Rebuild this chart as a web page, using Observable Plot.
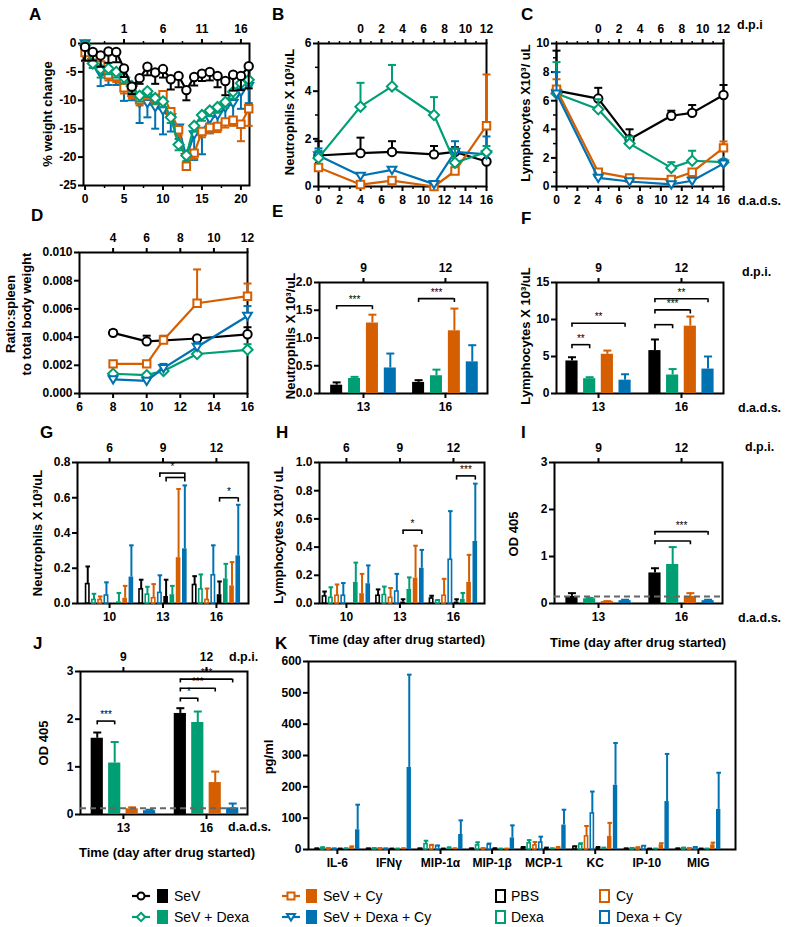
<!DOCTYPE html>
<html><head><meta charset="utf-8">
<script src="https://cdn.jsdelivr.net/npm/d3@7"></script>
<script src="https://cdn.jsdelivr.net/npm/@observablehq/plot@0.6"></script>
<style>
body{margin:0;background:#fff;}
#fig{position:relative;width:786px;height:927px;overflow:hidden;background:#fff;font-family:"Liberation Sans",Arial,sans-serif;color:#000;}
.t{position:absolute;white-space:nowrap;transform:translate(0,-50%);line-height:1;}
.sw{position:absolute;box-sizing:border-box;}
</style></head>
<body><div id="fig"></div>
<script>
// ---------------- DATA ----------------
const seriesNames = ["SeV", "SeV + Dexa", "SeV + Cy", "SeV + Dexa + Cy"];
const ctrlNames = ["PBS", "Dexa", "Cy", "Dexa + Cy"];
const seriesColors = ["#000000", "#009E73", "#D55E00", "#0072B2"];

// A: % weight change (error bars drawn downward)
const aDays = [0,1,2,3,4,5,6,7,8,9,10,11,12,13,14,15,16,17,18,19,20,21];
const aSeV      = [-0.6,-1.5,-2.1,-1.4,-1.5,-4.4,-7.6,-6.1,-4.1,-5.1,-4.5,-6.3,-5.7,-8.2,-5.9,-5.3,-5.0,-5.7,-6.6,-5.5,-5.7,-4.0];
const aSeVErr   = [2.4,1.5,2.0,2.0,1.8,1.5,1.3,1.0,1.5,2.0,1.5,1.8,2.0,1.8,1.5,1.3,1.5,2.0,2.5,2.8,2.5,3.9];
const aDexa     = [-0.3,-3.5,-4.5,-4.4,-5.0,-6.0,-7.5,-9.2,-8.4,-9.6,-10.2,-13.0,-17.8,-19.7,-14.5,-12.6,-11.8,-11.2,-10.3,-8.5,-7.0,-6.4];
const aDexaErr  = [0.5,0.8,1.5,1,1,1,1,1,1,1,1,1,1,1,1,1,1,1,1,1.2,1.2,1];
const aCy       = [-1.6,-2.2,-3.8,-5.5,-5.8,-7.8,-8.6,-9.9,-8.8,-9.7,-9.0,-12.0,-15.2,-21.6,-19.3,-15.5,-14.8,-14.6,-13.8,-13.5,-14.2,-11.5];
const aCyErr    = [1.5,1,1,1,1,1,1,1,1,1,1,1,1,0.5,1,1,1,1,1,1,3,3];
const aDexaCy   = [0,-3.3,-5.3,-5.8,-6.3,-7.6,-8.0,-10.5,-10.5,-11.2,-11.8,-13.0,-14.8,-20.0,-16.0,-15.5,-13.3,-12.6,-11.3,-10.5,-8.5,-7.5];
const aDexaCyErr= [0.5,1.0,2.2,1.5,1.0,2.5,2.0,3.5,2.5,3.8,4.2,2.5,2.0,1.0,4.5,4.0,2.5,2.0,2.5,2.5,3.0,3.0];

// B: neutrophils, C: lymphocytes (blood counts)
const bcDays = [0,4,7,11,13,16];
const bSeV = [1.3,1.4,1.45,1.35,1.45,1.05],  bSeVErr = [0.6,0.65,0.45,0.35,0.2,0];
const bDexa = [1.2,3.35,4.2,3.0,1.0,1.45],   bDexaErr = [0.3,1.0,0.9,0.75,0.6,0.25];
const bCy = [0.8,0.08,0.25,0.0,0.65,2.55],   bCyErr = [0.1,0,0,0,0.15,2.15];
const bDexaCy = [1.3,0.45,0.7,0.1,1.45,1.35],bDexaCyErr = [0.3,0,0,0,0.45,0.75];
const cSeV = [6.7,6.15,3.3,4.95,5.15,6.4],   cSeVErr = [2.8,0.75,0.7,0.35,0.55,0.7];
const cDexa = [6.5,5.4,3.0,1.3,1.8,1.7],     cDexaErr = [2.2,0.7,0.5,0.4,0.7,0];
const cCy = [6.8,1.0,0.6,0.5,1.0,2.7],       cCyErr = [0.7,0.1,0.1,0.1,0.1,0.45];
const cDexaCy = [6.5,0.6,0.35,0.15,0.4,1.6], cDexaCyErr = [1.5,0.05,0.05,0.05,0.1,0.3];

// D: spleen ratio
const dDays = [8,10,11,13,16];
const dSeV = [0.0043,0.0037,null,0.0039,0.0042],    dSeVErr = [0.0002,0.0004,0,0.0001,0.0005];
const dDexa = [0.0014,0.0013,0.0016,0.0028,0.0031], dDexaErr = [0.0001,0.0001,0.0001,0.0001,0.0004];
const dCy = [0.0021,0.0021,0.0038,0.0064,0.0069],   dCyErr = [0.0001,0.0001,0.0003,0.0024,0.0009];
const dDexaCy = [0.0010,0.0009,0.0018,0.0033,0.0055], dDexaCyErr = [0.0001,0.0001,0.0003,0.0003,0.0007];

// E, F, I, J: bars at days 13 and 16 (order SeV, SeV+Dexa, SeV+Cy, SeV+Dexa+Cy)
const barDays = [13,16];
const eMean = [[0.15,0.2],[0.27,0.32],[1.27,1.13],[0.46,0.57]];
const eErr  = [[0.05,0.04],[0.03,0.11],[0.15,0.4],[0.26,0.3]];
const fMean = [[4.4,5.8],[2.0,2.5],[5.3,9.1],[1.8,3.3]];
const fErr  = [[0.5,1.5],[0.2,0.8],[0.5,1.3],[0.8,1.7]];
const iMean = [[0.15,0.65],[0.1,0.83],[0.04,0.15],[0.06,0.06]];
const iErr  = [[0.07,0.1],[0.02,0.37],[0.01,0.07],[0.02,0.02]];
const jMean = [[1.6,2.12],[1.08,1.93],[0.12,0.67],[0.08,0.14]];
const jErr  = [[0.12,0.11],[0.44,0.23],[0.03,0.23],[0.02,0.09]];
const iCutoff = 0.15, jCutoff = 0.13;

// G, H: BAL cells, days 10/13/16; order PBS, Dexa, Cy, Dexa+Cy (open), SeV, SeV+Dexa, SeV+Cy, SeV+Dexa+Cy (filled)
const ghDays = [10,13,16];
const gMean = [[0.11,0.08,0.105],[0.02,0.05,0.08],[0.02,0.03,0.02],[0.045,0.06,0.16],[0,0.04,0.05],[0.01,0.05,0.14],[0.03,0.26,0.1],[0.15,0.31,0.27]];
const gErr  = [[0.1,0.055,0.05],[0.035,0.045,0.085],[0.02,0.08,0.065],[0.075,0.1,0.17],[0,0.095,0.075],[0.05,0.05,0.085],[0.07,0.39,0.135],[0.18,0.36,0.29]];
const hMean = [[0.05,0.055,0.035],[0.04,0.06,0.02],[0.055,0.04,0.055],[0.055,0.085,0.31],[0,0.01,0.01],[0.15,0.1,0.03],[0.07,0.18,0.15],[0.14,0.25,0.44]];
const hErr  = [[0.035,0.045,0.02],[0.075,0.06,0.005],[0.08,0.07,0.12],[0.09,0.125,0.345],[0,0.02,0.02],[0.14,0.085,0.045],[0.14,0.23,0.195],[0.13,0.13,0.41]];

// K: cytokines pg/ml
const kCats = ["IL-6","IFNγ","MIP-1α","MIP-1β","MCP-1","KC","IP-10","MIG"];
const kMean = [[2,2,2,2,5,8,2,2],[5,3,17,13,20,15,3,4],[3,3,12,3,13,42,5,3],[2,2,10,15,22,115,10,6],
               [2,2,2,3,4,6,2,2],[3,2,5,2,3,5,2,2],[8,3,3,2,5,42,15,15],[63,262,48,37,78,205,153,128]];
const kErr  = [[1,1,1,1,3,2,1,1],[2,1,11,10,10,5,2,2],[1,1,3,1,11,33,2,1],[1,1,3,4,19,70,2,2],
               [1,1,1,1,2,2,1,1],[1,1,2,1,1,1,1,1],[2,1,1,1,3,43,5,7],[80,296,45,40,49,135,152,117]];

// significance brackets: [day, from series, to series, y, label]
const eBrackets = [[13,0,2,1.58,"***"],[16,0,2,1.71,"***"]];
const fBrackets = [[13,0,1,6.6,"**"],[13,0,3,9.5,"**"],[16,0,1,9.3,""],[16,0,2,11.3,"***"],[16,0,3,12.8,"**"]];
const gBrackets = [[13,3,7,0.74,"*"],[13,4,7,0.715,""],[16,4,7,0.6,"*"]];
const hBrackets = [[13,4,7,0.52,"*"],[16,4,7,0.905,"***"]];
const iBrackets = [[16,0,2,1.33,""],[16,0,3,1.53,"***"]];
const jBrackets = [[13,0,1,1.96,"***"],[16,0,1,2.44,"*"],[16,0,2,2.65,"***"],[16,0,3,2.84,"***"]];

// tick values
const aTicksX = [0,5,10,15,20], aMinorX = [2.5,7.5,12.5,17.5], aTicksY = [0,-5,-10,-15,-20,-25];
const bcTicksX = [0,2,4,6,8,10,12,14,16], bcMinorX = [1,3,5,7,9,11,13,15], bcTopTicks = [4,6,8,10,12,14,16], bcTopMinor = [0,1,2,3,5,7,9,11,13,15];
const bTicksY = [0,2,4,6], bMinorY = [1,3,5], cTicksY = [0,2,4,6,8,10], cMinorY = [1,3,5,7,9];
const dTicksX = [6,8,10,12,14,16], dTopTicks = [8,10,12,14,16], dTicksY = [0,0.002,0.004,0.006,0.008,0.010];
const dpiOffset = 4; // d.p.i. = d.a.d.s. - 4

// ---------------- HELPERS ----------------
const fig = document.getElementById("fig");
const FONT = '"Liberation Sans", Arial, Helvetica, sans-serif';
const capSym = {draw(ctx, size) { const r = Math.sqrt(size / Math.PI); ctx.moveTo(-r, 0); ctx.lineTo(r, 0); }};
const triDown = {draw(ctx, size) { const r = Math.sqrt(size / Math.PI); ctx.moveTo(-r*1.05, -r*0.75); ctx.lineTo(r*1.05, -r*0.75); ctx.lineTo(0, r*1.0); ctx.closePath(); }};
const symbols = ["circle", "diamond2", "square", triDown];
const intFmt = d => String(d);

function panel(box, xo, yo, marks) {
  const mL = 50, mR = 14, mT = 34, mB = 28;
  const p = Plot.plot({
    width: box.r - box.l + mL + mR, height: box.b - box.t + mT + mB,
    marginLeft: mL, marginRight: mR, marginTop: mT, marginBottom: mB,
    x: {type: "linear", ...xo}, y: {type: "linear", ...yo},
    style: {background: "transparent", overflow: "visible", fontFamily: FONT, fontSize: "12px", fontWeight: "bold", color: "#000"},
    marks
  });
  p.style.position = "absolute"; p.style.left = (box.l - mL) + "px"; p.style.top = (box.t - mT) + "px";
  fig.appendChild(p);
}
const ax = o => Plot.axisX({label: null, tickSize: 5, strokeWidth: 2, tickPadding: 4, tickFormat: intFmt, ...o});
const axTop = o => Plot.axisX({anchor: "top", label: null, tickSize: 5, strokeWidth: 2, tickPadding: 6, ...o});
const ay = o => Plot.axisY({label: null, tickSize: 5, strokeWidth: 2, tickPadding: 2, tickFormat: intFmt, ...o});
const minorX = (ticks, anchor = "bottom") => Plot.axisX({anchor, ticks, tickSize: 3, strokeWidth: 1.5, tickFormat: () => "", label: null});
const minorY = ticks => Plot.axisY({ticks, tickSize: 3, strokeWidth: 1.5, tickFormat: () => "", label: null});
const frame = () => Plot.frame({stroke: "#000", strokeWidth: 2});

function ser(xs, ys, es) { return xs.map((x, i) => ({x, y: ys[i], e: es[i]})).filter(d => d.y != null); }

function lineMarks(list, dir) { // list: [{data, si}]
  const marks = [];
  for (const s of list) {
    const color = seriesColors[s.si];
    const we = s.data.filter(d => d.e > 0);
    marks.push(
      Plot.ruleX(we, {x: "x", y1: "y", y2: d => d.y + dir * d.e, stroke: color, strokeWidth: 2}),
      Plot.dot(we, {x: "x", y: d => d.y + dir * d.e, symbol: capSym, r: 4, stroke: color, strokeWidth: 2, fill: "none"}),
      Plot.line(s.data, {x: "x", y: "y", stroke: color, strokeWidth: 2.2}),
      Plot.dot(s.data, {x: "x", y: "y", symbol: symbols[s.si], r: s.si === 1 ? 4.6 : 4.2, stroke: color, strokeWidth: 2, fill: "white"})
    );
  }
  return marks;
}

function barMarks(days, means, errs, colors, opens, step, bw, bwo, capR, brackets, drop, errW) {
  const n = means.length, data = [];
  means.forEach((m, si) => days.forEach((day, di) => data.push({
    x: day + (si - (n - 1) / 2) * step, y: m[di], e: errs[si][di], color: colors[si], open: opens[si]
  })));
  const pos = (day, si) => day + (si - (n - 1) / 2) * step;
  const br = brackets.map(([day, a, b, y, label]) => ({x1: pos(day, a), x2: pos(day, b), y, label}));
  const we = data.filter(d => d.e > 0);
  return [
    Plot.ruleX(we, {x: "x", y1: "y", y2: d => d.y + d.e, stroke: "color", strokeWidth: errW}),
    Plot.dot(we, {x: "x", y: d => d.y + d.e, symbol: capSym, r: capR, stroke: "color", strokeWidth: 2, fill: "none"}),
    Plot.rectY(data.filter(d => !d.open), {x1: d => d.x - bw / 2, x2: d => d.x + bw / 2, y1: 0, y2: "y", fill: "color"}),
    Plot.rectY(data.filter(d => d.open), {x1: d => d.x - bwo / 2, x2: d => d.x + bwo / 2, y1: 0, y2: "y", fill: "white", stroke: "color", strokeWidth: 1.6}),
    Plot.ruleY(br, {x1: "x1", x2: "x2", y: "y", stroke: "#000", strokeWidth: 1.6}),
    Plot.ruleX(br, {x: "x1", y1: "y", y2: d => d.y - drop, stroke: "#000", strokeWidth: 1.6}),
    Plot.ruleX(br, {x: "x2", y1: "y", y2: d => d.y - drop, stroke: "#000", strokeWidth: 1.6}),
    Plot.text(br, {x: d => (d.x1 + d.x2) / 2, y: "y", text: "label", dy: -6, fontSize: 10, fontWeight: "normal", fill: "#000"})
  ];
}

function txt(s, x, y, st) {
  const d = document.createElement("div");
  d.className = "t"; d.textContent = s;
  d.style.left = x + "px"; d.style.top = y + "px";
  Object.assign(d.style, st || {});
  fig.appendChild(d); return d;
}
const ytitle = (s, cx, cy) => txt(s, cx, cy, {transform: "translate(-50%,-50%) rotate(-90deg)", fontWeight: "bold", fontSize: "13px"});
const letter = (s, x, y) => txt(s, x, y, {fontWeight: "bold", fontSize: "17px"});
const note = (s, x, y) => txt(s, x, y, {fontWeight: "bold", fontSize: "12.5px"});
const xtitle = (s, cx, cy) => txt(s, cx, cy, {transform: "translate(-50%,-50%)", fontWeight: "bold", fontSize: "13px"});

const topFmt = d => String(d - dpiOffset);

// ---------------- PANEL A ----------------
panel({l: 83, r: 249, t: 43, b: 185}, {domain: [-0.2, 21.1]}, {domain: [-25, 0]}, [
  ax({ticks: aTicksX}), minorX(aMinorX), axTop({ticks: [5,10,15,20], tickFormat: topFmt}), minorX(aMinorX, "top"),
  ay({ticks: aTicksY}), frame(),
  ...lineMarks([
    {si: 3, data: ser(aDays, aDexaCy, aDexaCyErr)},
    {si: 2, data: ser(aDays, aCy, aCyErr)},
    {si: 1, data: ser(aDays, aDexa, aDexaErr)},
    {si: 0, data: ser(aDays, aSeV, aSeVErr)}
  ], -1)
]);

// ---------------- PANEL B ----------------
panel({l: 318, r: 486, t: 43, b: 186}, {domain: [0, 16]}, {domain: [0, 6]}, [
  ax({ticks: bcTicksX}), minorX(bcMinorX), axTop({ticks: bcTopTicks, tickFormat: topFmt}), minorX(bcTopMinor, "top"),
  ay({ticks: bTicksY}), minorY(bMinorY), frame(),
  ...lineMarks([
    {si: 0, data: ser(bcDays, bSeV, bSeVErr)},
    {si: 2, data: ser(bcDays, bCy, bCyErr)},
    {si: 3, data: ser(bcDays, bDexaCy, bDexaCyErr)},
    {si: 1, data: ser(bcDays, bDexa, bDexaErr)}
  ], 1)
]);

// ---------------- PANEL C ----------------
panel({l: 556, r: 723, t: 43, b: 186}, {domain: [0, 16]}, {domain: [0, 10]}, [
  ax({ticks: bcTicksX}), minorX(bcMinorX), axTop({ticks: bcTopTicks, tickFormat: topFmt}), minorX(bcTopMinor, "top"),
  ay({ticks: cTicksY}), minorY(cMinorY), frame(),
  ...lineMarks([
    {si: 0, data: ser(bcDays, cSeV, cSeVErr)},
    {si: 1, data: ser(bcDays, cDexa, cDexaErr)},
    {si: 2, data: ser(bcDays, cCy, cCyErr)},
    {si: 3, data: ser(bcDays, cDexaCy, cDexaCyErr)}
  ], 1)
]);

// ---------------- PANEL D ----------------
panel({l: 79, r: 247, t: 252, b: 393}, {domain: [6, 16]}, {domain: [0, 0.01]}, [
  ax({ticks: dTicksX}), axTop({ticks: dTopTicks, tickFormat: topFmt}),
  ay({ticks: dTicksY, tickFormat: d3.format(".3f")}), frame(),
  ...lineMarks([
    {si: 0, data: ser(dDays, dSeV, dSeVErr)},
    {si: 1, data: ser(dDays, dDexa, dDexaErr)},
    {si: 3, data: ser(dDays, dDexaCy, dDexaCyErr)},
    {si: 2, data: ser(dDays, dCy, dCyErr)}
  ], 1)
]);

// ---------------- PANELS E, F, I, J ----------------
const opens4 = [false, false, false, false];
const barAxes = (yt, yfmt) => [ax({ticks: barDays}), axTop({ticks: barDays, tickFormat: topFmt}), ay({ticks: yt, tickFormat: yfmt || intFmt}), frame()];
panel({l: 319, r: 487, t: 282, b: 393}, {domain: [11.39, 17.54]}, {domain: [0, 2]}, [
  ...barAxes([0,0.5,1,1.5,2], d3.format(".1f")),
  ...barMarks(barDays, eMean, eErr, seriesColors, opens4, 0.655, 0.44, 0.4, 4, eBrackets, 0.07, 2)
]);
panel({l: 556, r: 723, t: 282, b: 393}, {domain: [11.48, 17.52]}, {domain: [0, 15]}, [
  ...barAxes([0,5,10,15]),
  ...barMarks(barDays, fMean, fErr, seriesColors, opens4, 0.64, 0.44, 0.4, 4, fBrackets, 0.55, 2)
]);
panel({l: 554, r: 722, t: 462, b: 603}, {domain: [11.41, 17.48]}, {domain: [0, 3]}, [
  ...barAxes([0,1,2,3]),
  ...barMarks(barDays, iMean, iErr, seriesColors, opens4, 0.64, 0.44, 0.4, 4, iBrackets, 0.08, 2),
  Plot.ruleY([iCutoff], {stroke: "#666", strokeWidth: 2, strokeDasharray: "6,4"})
]);
panel({l: 80, r: 247, t: 671, b: 814}, {domain: [11.45, 17.48]}, {domain: [0, 3]}, [
  ...barAxes([0,1,2,3]),
  ...barMarks(barDays, jMean, jErr, seriesColors, opens4, 0.63, 0.44, 0.4, 4, jBrackets, 0.08, 2),
  Plot.ruleY([jCutoff], {stroke: "#666", strokeWidth: 2, strokeDasharray: "6,4"})
]);

// ---------------- PANELS G, H ----------------
const colors8 = [...seriesColors, ...seriesColors];
const opens8 = [true, true, true, true, false, false, false, false];
const ghAxes = yt => [ax({ticks: ghDays}), axTop({ticks: ghDays, tickFormat: topFmt}), ay({ticks: yt, tickFormat: d3.format(".1f")}), frame()];
panel({l: 77, r: 248, t: 462, b: 603}, {domain: [8.2, 17.8]}, {domain: [0, 0.8]}, [
  ...ghAxes([0,0.2,0.4,0.6,0.8]),
  ...barMarks(ghDays, gMean, gErr, colors8, opens8, 0.35, 0.26, 0.19, 2.3, gBrackets, 0.025, 2)
]);
panel({l: 319, r: 484, t: 462, b: 603}, {domain: [8.49, 17.74]}, {domain: [0, 1]}, [
  ...ghAxes([0,0.2,0.4,0.6,0.8,1.0]),
  ...barMarks(ghDays, hMean, hErr, colors8, opens8, 0.35, 0.26, 0.19, 2.3, hBrackets, 0.03, 2)
]);

// ---------------- PANEL K ----------------
panel({l: 308, r: 735, t: 661, b: 849}, {domain: [-0.56, 7.72]}, {domain: [0, 600]}, [
  ax({ticks: kCats.map((c, i) => i), tickFormat: i => kCats[i]}),
  ay({ticks: [0,100,200,300,400,500,600]}), frame(),
  ...barMarks(kCats.map((c, i) => i), kMean, kErr, colors8, opens8, 0.1125, 0.085, 0.06, 2.3, [], 0, 2)
]);

// ---------------- TEXT ----------------
letter("A", 29, 14); letter("B", 272, 14); letter("C", 521, 14);
letter("D", 31, 215); letter("E", 272, 211); letter("F", 521, 218);
letter("G", 40, 432); letter("H", 276, 432); letter("I", 521, 432);
letter("J", 33, 643); letter("K", 275, 643);

ytitle("% weight change", 47, 114);
ytitle("Neutrophils X 10³/uL", 289, 112);
ytitle("Lymphocytes X10³/ uL", 525, 113);
txt("Ratio:spleen", 10, 314, {transform: "translate(-50%,-50%) rotate(-90deg)", fontWeight: "bold", fontSize: "13px"});
txt("to total body weight", 26, 314, {transform: "translate(-50%,-50%) rotate(-90deg)", fontWeight: "bold", fontSize: "13px"});
ytitle("Neutrophils X 10³/uL", 290, 336);
ytitle("Lymphocytes X 10³/uL", 525, 336);
ytitle("Neutrophils X 10³/uL", 37, 533);
ytitle("Lymphocytes X10³/ uL", 278, 535);
ytitle("OD 405", 513, 534);
ytitle("OD 405", 43, 743);
ytitle("pg/ml", 268, 757);

note("d.p.i", 737, 25); note("d.a.d.s.", 738, 201);
note("d.p.i.", 742, 272); note("d.a.d.s.", 738, 408);
note("d.p.i.", 745, 447); note("d.a.d.s.", 738, 618);
note("d.p.i.", 229, 657); note("d.a.d.s.", 228, 827);

xtitle("Time (day after drug started)", 397, 639);
xtitle("Time (day after drug started)", 638, 642);
xtitle("Time (day after drug started)", 167, 852);

// ---------------- LEGEND ----------------
const legRows = [896, 917];
function lineIcon(x, y, si) {
  const c = seriesColors[si];
  const ns = "http://www.w3.org/2000/svg";
  const svg = document.createElementNS(ns, "svg");
  svg.setAttribute("width", 20); svg.setAttribute("height", 14);
  svg.style.position = "absolute"; svg.style.left = x + "px"; svg.style.top = (y - 7) + "px";
  const ln = document.createElementNS(ns, "line");
  ln.setAttribute("x1", 1); ln.setAttribute("x2", 19); ln.setAttribute("y1", 7); ln.setAttribute("y2", 7);
  ln.setAttribute("stroke", c); ln.setAttribute("stroke-width", 2.2); svg.appendChild(ln);
  const p = document.createElementNS(ns, "path");
  const shapes = ["M13.5,7A3.5,3.5 0 1,1 6.5,7A3.5,3.5 0 1,1 13.5,7Z", "M10,2.8L14.2,7L10,11.2L5.8,7Z", "M6.5,3.5H13.5V10.5H6.5Z", "M6,4H14L10,10.5Z"];
  p.setAttribute("d", shapes[si]); p.setAttribute("fill", "white"); p.setAttribute("stroke", c); p.setAttribute("stroke-width", 2);
  svg.appendChild(p); fig.appendChild(svg);
}
function swatch(x, y, color, open) {
  const d = document.createElement("div");
  d.className = "sw";
  Object.assign(d.style, {left: x + "px", top: (y - 7) + "px", width: "11px", height: "14px",
    background: open ? "#fff" : color, border: open ? "2px solid " + color : "none"});
  fig.appendChild(d);
}
const legFont = {fontSize: "14px"};
[[0, 0], [1, 1]].forEach(([row, si]) => {
  const y = legRows[row];
  lineIcon(131, y, si); swatch(157, y, seriesColors[si], false); txt(seriesNames[si], 174, y, legFont);
  lineIcon(281, y, si + 2); swatch(306, y, seriesColors[si + 2], false); txt(seriesNames[si + 2], 323, y, legFont);
  swatch(495, y, seriesColors[si], true); txt(ctrlNames[si], 511, y, legFont);
  swatch(599, y, seriesColors[si + 2], true); txt(ctrlNames[si + 2], 616, y, legFont);
});
</script></body></html>
